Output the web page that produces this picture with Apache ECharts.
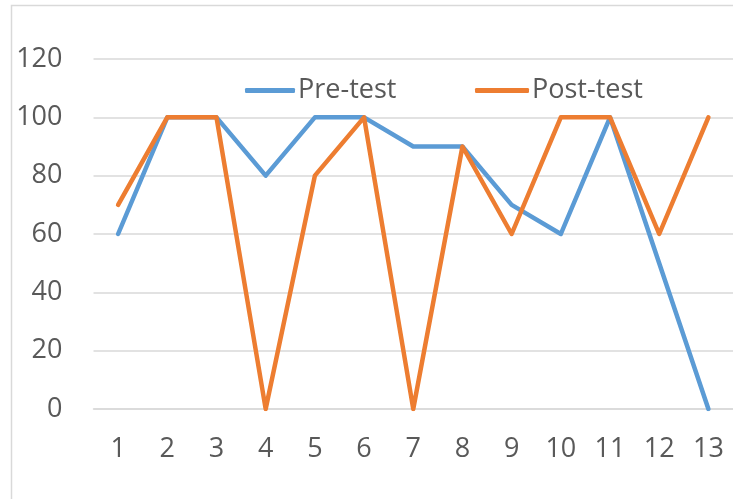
<!DOCTYPE html>
<html><head><meta charset="utf-8">
<script src="https://cdn.jsdelivr.net/npm/echarts@6/dist/echarts.min.js"></script>
<style>html,body{margin:0;padding:0;background:#fff}#c{width:733px;height:499px}</style>
</head><body><div id="c"></div>
<script>
const categories = ['1','2','3','4','5','6','7','8','9','10','11','12','13'];
const preTest  = [60,100,100,80,100,100,90,90,70,60,100,50,0];
const postTest = [70,100,100,0,80,100,0,90,60,100,100,60,100];
const seriesNames = ['Pre-test','Post-test'];

const chart = echarts.init(document.getElementById('c'));
const font = 'Open Sans';
const txt = '#595959';
chart.setOption({
  animation: false,
  backgroundColor: '#fff',
  graphic: [{type:'rect', shape:{x:11.5,y:5.5,width:800,height:600}, style:{fill:'none',stroke:'#d9d9d9',lineWidth:1.5}, silent:true}],
  grid: {left: 93.5, right: -2, top: 59, bottom: 90},
  legend: [
    {data:[{name:seriesNames[0]}], left: 240, top: 72, icon:'roundRect', itemWidth:50, itemHeight:5, itemGap:8,
     textStyle:{fontFamily:font,fontSize:27,color:txt,padding:[0,0,0,-2]}},
    {data:[{name:seriesNames[1]}], left: 470, top: 72, icon:'roundRect', itemWidth:54, itemHeight:5, itemGap:8,
     textStyle:{fontFamily:font,fontSize:27,color:txt,padding:[0,0,0,-2]}}
  ],
  xAxis: {type:'category', data: categories, boundaryGap:true,
    axisLine:{lineStyle:{color:'#d9d9d9',width:1.5}}, axisTick:{show:false},
    axisLabel:{fontFamily:font,fontSize:27,color:txt,margin:27}},
  yAxis: {type:'value', min:0, max:120, interval:20,
    axisLine:{show:false}, axisTick:{show:false},
    splitLine:{lineStyle:{color:'#d9d9d9',width:1.5}},
    axisLabel:{fontFamily:font,fontSize:27,color:txt,margin:31}},
  series: [
    {name:seriesNames[0], type:'line', data:preTest, symbol:'none', color:'#5B9BD5',
     lineStyle:{width:4.5,cap:'round',join:'round'}},
    {name:seriesNames[1], type:'line', data:postTest, symbol:'none', color:'#ED7D31',
     lineStyle:{width:4.5,cap:'round',join:'round'}}
  ]
});
</script></body></html>
